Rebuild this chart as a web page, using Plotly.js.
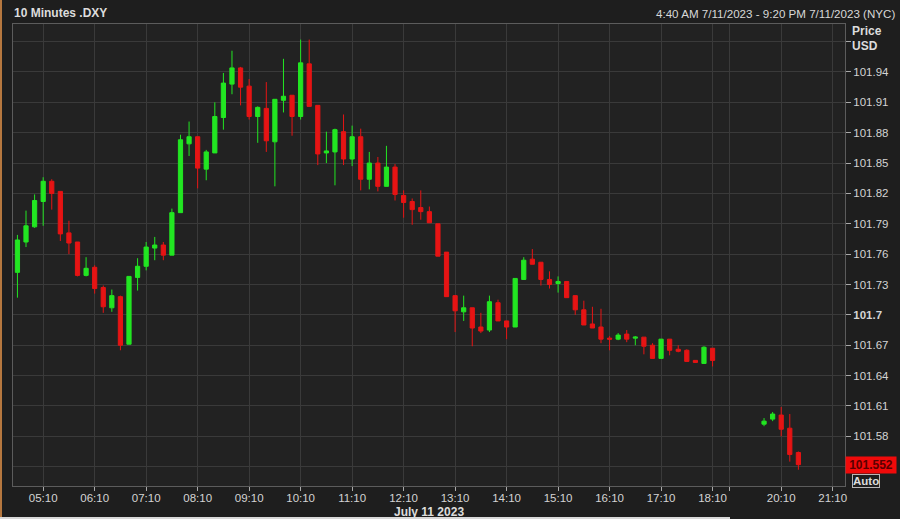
<!DOCTYPE html>
<html>
<head>
<meta charset="utf-8">
<script src="https://cdn.plot.ly/plotly-3.0.1.min.js"></script>
<style>
  html, body { margin: 0; padding: 0; background: #1e1e1e; overflow: hidden; }
  #chart { width: 900px; height: 519px; position: absolute; left: 0; top: 0; }
  .edgeL { position: absolute; left: 0; top: 0; width: 2px; height: 519px; background: #b5773f; }
  .edgeB { position: absolute; left: 0; top: 517px; width: 730px; height: 2px; background: #d8d8d8; }
</style>
</head>
<body>
<div id="chart"></div>
<div class="edgeL"></div>
<div class="edgeB"></div>
<script>
// ---- data (10-minute candles, July 11 2023, NYC time) ----
const day = "2023-07-11";
const times = [
  "04:40","04:50","05:00","05:10","05:20","05:30","05:40","05:50","06:00","06:10",
  "06:20","06:30","06:40","06:50","07:00","07:10","07:20","07:30","07:40","07:50",
  "08:00","08:10","08:20","08:30","08:40","08:50","09:00","09:10","09:20","09:30",
  "09:40","09:50","10:00","10:10","10:20","10:30","10:40","10:50","11:00","11:10",
  "11:20","11:30","11:40","11:50","12:00","12:10","12:20","12:30","12:40","12:50",
  "13:00","13:10","13:20","13:30","13:40","13:50","14:00","14:10","14:20","14:30",
  "14:40","14:50","15:00","15:10","15:20","15:30","15:40","15:50","16:00","16:10",
  "16:20","16:30","16:40","16:50","17:00","17:10","17:20","17:30","17:40","17:50",
  "18:00","18:10",
  "19:50","20:00","20:10","20:20","20:30"
];
const openV = [
  101.742,101.772,101.787,101.812,101.832,101.822,101.781,101.772,101.739,101.747,
  101.727,101.707,101.718,101.671,101.737,101.748,101.766,101.769,101.759,101.801,
  101.869,101.876,101.844,101.860,101.895,101.928,101.944,101.926,101.896,101.904,
  101.871,101.912,101.917,101.896,101.948,101.907,101.860,101.861,101.881,101.854,
  101.876,101.834,101.850,101.827,101.846,101.818,101.812,101.806,101.802,101.790,
  101.762,101.719,101.703,101.707,101.688,101.685,101.712,101.694,101.688,101.735,
  101.755,101.752,101.735,101.731,101.733,101.719,101.705,101.691,101.688,101.677,
  101.676,101.681,101.677,101.678,101.670,101.657,101.676,101.666,101.665,101.655,
  101.652,101.667,
  101.592,101.597,101.601,101.588,101.564
];
const highV = [
  101.779,101.803,101.819,101.836,101.834,101.822,101.793,101.772,101.757,101.749,
  101.729,101.725,101.719,101.738,101.756,101.772,101.777,101.772,101.805,101.878,
  101.891,101.876,101.863,101.910,101.939,101.961,101.945,101.933,101.906,101.930,
  101.913,101.953,101.917,101.972,101.972,101.907,101.881,101.884,101.898,101.887,
  101.884,101.861,101.856,101.867,101.849,101.823,101.815,101.823,101.807,101.790,
  101.762,101.719,101.719,101.707,101.702,101.719,101.715,101.694,101.736,101.757,
  101.765,101.752,101.743,101.738,101.733,101.719,101.714,101.708,101.706,101.679,
  101.682,101.685,101.679,101.678,101.672,101.676,101.676,101.670,101.666,101.655,
  101.669,101.667,
  101.598,101.604,101.609,101.602,101.565
];
const lowV = [
  101.717,101.767,101.786,101.788,101.804,101.773,101.760,101.738,101.738,101.721,
  101.702,101.703,101.665,101.671,101.724,101.744,101.754,101.754,101.759,101.801,
  101.857,101.825,101.833,101.860,101.883,101.918,101.907,101.893,101.870,101.861,
  101.827,101.900,101.877,101.893,101.906,101.848,101.850,101.828,101.848,101.847,
  101.823,101.824,101.822,101.827,101.813,101.796,101.789,101.794,101.791,101.758,
  101.718,101.683,101.694,101.669,101.682,101.683,101.694,101.676,101.688,101.735,
  101.750,101.729,101.726,101.722,101.717,101.700,101.690,101.687,101.672,101.665,
  101.675,101.673,101.670,101.661,101.657,101.657,101.660,101.663,101.654,101.653,
  101.652,101.649,
  101.590,101.595,101.580,101.555,101.547
];
const closeV = [
  101.774,101.788,101.813,101.832,101.820,101.780,101.771,101.739,101.746,101.726,
  101.708,101.719,101.670,101.738,101.748,101.767,101.769,101.759,101.801,101.873,
  101.876,101.845,101.861,101.896,101.929,101.944,101.925,101.896,101.905,101.872,
  101.913,101.916,101.896,101.949,101.906,101.859,101.862,101.883,101.854,101.876,
  101.834,101.850,101.827,101.846,101.819,101.811,101.804,101.802,101.791,101.758,
  101.718,101.704,101.707,101.687,101.684,101.713,101.694,101.688,101.736,101.754,
  101.750,101.735,101.730,101.733,101.717,101.705,101.690,101.687,101.676,101.676,
  101.680,101.676,101.678,101.669,101.657,101.676,101.665,101.664,101.654,101.653,
  101.668,101.655,
  101.595,101.602,101.587,101.562,101.552
];

// axis ticks
const xTickTimes = ["05:10","06:10","07:10","08:10","09:10","10:10","11:10","12:10","13:10",
                    "14:10","15:10","16:10","17:10","18:10","19:10","20:10","21:10"];
const xTickText  = ["05:10","06:10","07:10","08:10","09:10","10:10","11:10","12:10","13:10",
                    "14:10","15:10","16:10","17:10","18:10","","20:10","21:10"];
const yTickVals = [101.55,101.58,101.61,101.64,101.67,101.70,101.73,101.76,101.79,101.82,101.85,101.88,101.91,101.94,101.97];
const yTickText = ["","101.58","101.61","101.64","101.67","<b>101.7</b>","101.73","101.76","101.79","101.82","101.85","101.88","101.91","101.94",""];
const sessionBreak = ["18:30","19:10"];
const xRange = ["04:34:50","21:24:20"];
const yRange = [101.5309, 101.9874];

const GREEN = "#22e622", RED = "#e61414";
const FONT = "Liberation Sans, Arial, sans-serif";

const trace = {
  type: "candlestick",
  x: times.map(t => day + " " + t),
  open: openV, high: highV, low: lowV, close: closeV,
  increasing: { line: { color: GREEN, width: 1 }, fillcolor: GREEN },
  decreasing: { line: { color: RED, width: 1 }, fillcolor: RED },
  whiskerwidth: 0,
  hoverinfo: "skip",
  showlegend: false
};

const lastClose = closeV[closeV.length - 1];

const layout = {
  width: 900, height: 519,
  margin: { l: 13, r: 55, t: 24, b: 33 },
  paper_bgcolor: "#1e1e1e",
  plot_bgcolor: "#222222",
  showlegend: false,
  title: {
    text: "<b>10 Minutes .DXY</b>",
    x: 14 / 900, xanchor: "left", xref: "container",
    y: 1 - 13 / 519, yanchor: "middle", yref: "container",
    font: { family: FONT, size: 12, color: "#dcdcdc" }
  },
  xaxis: {
    type: "date",
    range: xRange.map(t => day + " " + t),
    rangebreaks: [{ bounds: sessionBreak.map(t => day + " " + t) }],
    rangeslider: { visible: false },
    tickmode: "array",
    tickvals: xTickTimes.map(t => day + " " + t),
    ticktext: xTickText,
    ticks: "outside", ticklen: 4, tickcolor: "#aaaaaa",
    ticklabelstandoff: -3,
    tickfont: { family: FONT, size: 11.5, color: "#d4d4d4" },
    showgrid: true, gridcolor: "#3a3a3a", gridwidth: 1,
    showline: true, linecolor: "#5c5c5c", linewidth: 1, mirror: true,
    zeroline: false, fixedrange: true
  },
  yaxis: {
    side: "right",
    range: yRange,
    tickmode: "array",
    tickvals: yTickVals,
    ticktext: yTickText,
    ticks: "outside", ticklen: 5, tickcolor: "#aaaaaa",
    tickfont: { family: FONT, size: 11.5, color: "#d4d4d4" },
    showgrid: true, gridcolor: "#3a3a3a", gridwidth: 1,
    showline: true, linecolor: "#5c5c5c", linewidth: 1, mirror: true,
    zeroline: false, fixedrange: true
  },
  annotations: [
    { text: "4:40 AM 7/11/2023 - 9:20 PM 7/11/2023 (NYC)", xref: "paper", yref: "paper",
      x: (897 - 13) / 832, y: (486 - 13) / 462, xanchor: "right", yanchor: "middle",
      showarrow: false, font: { family: FONT, size: 11.6, color: "#d8d8d8" } },
    { text: "<b>Price</b>", xref: "paper", yref: "paper",
      x: (850 - 13) / 832, y: (486 - 31) / 462, xanchor: "left", yanchor: "middle",
      showarrow: false, font: { family: FONT, size: 12, color: "#dcdcdc" } },
    { text: "<b>USD</b>", xref: "paper", yref: "paper",
      x: (850 - 13) / 832, y: (486 - 46) / 462, xanchor: "left", yanchor: "middle",
      showarrow: false, font: { family: FONT, size: 12, color: "#dcdcdc" } },
    { text: "<b>July 11 2023</b>", xref: "paper", yref: "paper",
      x: (428.5 - 13) / 832, y: (486 - 512) / 462, xanchor: "center", yanchor: "middle",
      showarrow: false, font: { family: FONT, size: 12, color: "#dcdcdc" } },
    { text: "<b>" + lastClose.toFixed(3) + "</b>", xref: "paper", yref: "y",
      x: 1, y: lastClose, xanchor: "left", yanchor: "middle",
      showarrow: false, bgcolor: "#f00a0a", borderpad: 1, width: 48,
      font: { family: FONT, size: 12, color: "#5a0000" } },
    { text: "<b>Auto</b>", xref: "paper", yref: "paper",
      x: (852 - 13) / 832, y: (486 - 480.5) / 462, xanchor: "left", yanchor: "middle",
      showarrow: false, bordercolor: "#b8b8b8", borderwidth: 1, borderpad: 0,
      font: { family: FONT, size: 11.5, color: "#dcdcdc" } }
  ]
};

Plotly.newPlot("chart", [trace], layout, { staticPlot: true, displayModeBar: false });
</script>
</body>
</html>
